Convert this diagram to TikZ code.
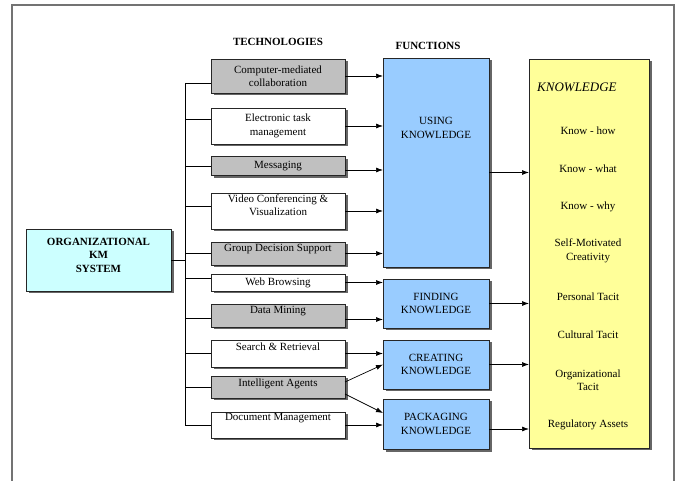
\documentclass[tikz,border=0pt]{standalone}
\usepackage{fontspec}
\setmainfont{Liberation Serif}
\newfontfamily\kmserif{Liberation Serif}
\usetikzlibrary{shadows,arrows.meta}
\definecolor{techgray}{RGB}{192,192,192}
\definecolor{fnblue}{RGB}{153,204,255}
\definecolor{knowyellow}{RGB}{255,255,153}
\definecolor{kmcyan}{RGB}{204,255,255}
\tikzset{
  txt/.style={font=\kmserif\fontsize{11}{13.5}\selectfont, align=center, inner sep=0pt},
  shadowbox/.style={draw=black!85, line width=0.7pt, outer sep=0pt,
    drop shadow={shadow xshift=2.5pt, shadow yshift=-2.5pt, fill=black!60, opacity=1}},
  techbox/.style={shadowbox, txt, minimum width=134pt},
  lift/.style={text depth=#1},
  fnbox/.style={shadowbox, fill=fnblue, minimum width=106pt},
  head/.style={txt, font=\kmserif\fontsize{11}{13.5}\selectfont\bfseries},
  conn/.style={line width=0.7pt},
  arr/.style={conn, -{Latex[length=7pt,width=5pt]}},
}
\begin{document}
\begin{tikzpicture}[x=1pt, y=-1pt]
    \useasboundingbox (0,0) rectangle (681,481);
    % 外框
    \draw[line width=1.6pt, black!55] (12,485) -- (12,5) -- (674,5) -- (674,485);
    % 标题
    \node[head] (hTech) at (278,42) {TECHNOLOGIES};
    \node[head] (hFun) at (428,46) {FUNCTIONS};
    % 系统
    \node[shadowbox, fill=kmcyan, minimum width=145pt, minimum height=62pt] (okms) at (98.5,260) {};
    \node[head] (okmsTxt) at (98.5,255) {ORGANIZATIONAL\\KM\\SYSTEM};
    % 技术
    \node[techbox, fill=techgray, minimum height=34pt] (t1) at (278,76) {Computer-mediated\\collaboration};
    \node[techbox, fill=white, minimum height=36pt] (t2) at (278,126) {Electronic task\\management};
    \node[techbox, fill=techgray, minimum height=19pt] (t3) at (278,166) {Messaging};
    \node[techbox, lift=12pt, fill=white, minimum height=36pt] (t4) at (278,211) {Video Conferencing \&\\Visualization};
    \node[techbox, lift=11pt, fill=techgray, minimum height=23pt] (t5) at (278,253.5) {Group Decision Support};
    \node[techbox, fill=white, minimum height=17pt] (t6) at (278,282.5) {Web Browsing};
    \node[techbox, lift=11pt, fill=techgray, minimum height=23pt] (t7) at (278,315.5) {Data Mining};
    \node[techbox, lift=14pt, fill=white, minimum height=27pt] (t8) at (278,353.5) {Search \& Retrieval};
    \node[techbox, lift=8pt, fill=techgray, minimum height=22pt] (t9) at (278,387) {Intelligent Agents};
    \node[techbox, lift=16pt, fill=white, minimum height=26pt] (t10) at (278,425) {Document Management};
    % 功能
    \node[fnbox, minimum height=209pt] (using) at (436,162.5) {};
    \node[txt] (usingTxt) at (436,128) {USING\\KNOWLEDGE};
    \node[fnbox, txt, minimum height=49pt] (finding) at (436,303.5) {FINDING\\KNOWLEDGE};
    \node[fnbox, txt, minimum height=49pt] (creating) at (436,364.5) {CREATING\\KNOWLEDGE};
    \node[fnbox, txt, minimum height=50pt] (packaging) at (436,424) {PACKAGING\\KNOWLEDGE};
    % 知识
    \node[shadowbox, fill=knowyellow, minimum width=120pt, minimum height=389pt] (know) at (589,253.5) {};
    \node[txt, font=\kmserif\fontsize{13}{15}\selectfont\itshape, anchor=west] (kTitle) at (537,87) {KNOWLEDGE};
    \node[txt] (k1) at (588,131) {Know - how};
    \node[txt] (k2) at (588,169) {Know - what};
    \node[txt] (k3) at (588,207) {Know - why};
    \node[txt] (k4) at (588,251) {Self-Motivated\\Creativity};
    \node[txt] (k5) at (588,297) {Personal Tacit};
    \node[txt] (k6) at (588,335) {Cultural Tacit};
    \node[txt] (k7) at (588,380) {Organizational\\Tacit};
    \node[txt] (k8) at (588,425) {Regulatory Assets};
    % 树形连线
    \coordinate (trunk) at (185,0);
    \draw[conn] (okms.east) -- (okms.east -| trunk);
    \draw[conn] ([yshift=-7pt]trunk |- t1.west) -- (trunk |- t10.west);
    \draw[conn] ([yshift=-7pt]t1.west) -- ([yshift=-7pt]t1.west -| trunk);
    \draw[conn] ([yshift=7pt]t2.west) -- ([yshift=7pt]t2.west -| trunk);
    \draw[conn] (t3.west) -- (t3.west -| trunk);
    \draw[conn] ([yshift=5pt]t4.west) -- ([yshift=5pt]t4.west -| trunk);
    \draw[conn] (t5.west) -- (t5.west -| trunk);
    \draw[conn] ([yshift=4pt]t6.west) -- ([yshift=4pt]t6.west -| trunk);
    \draw[conn] ([yshift=-3pt]t7.west) -- ([yshift=-3pt]t7.west -| trunk);
    \draw[conn] (t8.west) -- (t8.west -| trunk);
    \draw[conn] (t9.west) -- (t9.west -| trunk);
    \draw[conn] (t10.west) -- (t10.west -| trunk);
    % 技术 -> 功能
    \draw[arr] (t1.east) -- (t1.east -| using.west);
    \draw[arr] (t2.east) -- (t2.east -| using.west);
    \draw[arr] ([yshift=-4pt]t3.east) -- ([yshift=-4pt]t3.east -| using.west);
    \draw[arr] (t4.east) -- (t4.east -| using.west);
    \draw[arr] (t5.east) -- (t5.east -| using.west);
    \draw[arr] (t6.east) -- (t6.east -| finding.west);
    \draw[arr] ([yshift=-4pt]t7.east) -- ([yshift=-4pt]t7.east -| finding.west);
    \draw[arr] (t8.east) -- (t8.east -| creating.west);
    \draw[arr] ([yshift=5pt]t9.east) -- (creating.west);
    \draw[arr] ([yshift=-7pt]t9.east) -- ([yshift=11pt]packaging.west);
    \draw[arr] (t10.east) -- (t10.east -| packaging.west);
    % 功能 -> 知识
    \draw[arr] ([yshift=-10pt]using.east) -- ([yshift=-10pt]using.east -| know.west);
    \draw[arr] (finding.east) -- (finding.east -| know.west);
    \draw[arr] (creating.east) -- (creating.east -| know.west);
    \draw[arr] ([yshift=-5pt]packaging.east) -- ([yshift=-5pt]packaging.east -| know.west);
\end{tikzpicture}
\end{document}
